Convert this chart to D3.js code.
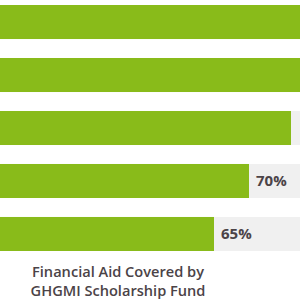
<!DOCTYPE html>
<html>
<head>
<meta charset="utf-8">
<script src="https://cdn.jsdelivr.net/npm/d3@7"></script>
<style>
  body { margin: 0; background: #ffffff; }
  svg { display: block; }
</style>
</head>
<body>
<div id="chart"></div>
<script>
let w = 300;
let h = 300;

// rows top to bottom; the top two run off the right edge of the crop
let rows = ["r1", "r2", "r3", "r4", "r5"];
let values = [85, 80, 76, 70, 65];
let labels = ["85%", "80%", "76%", "70%", "65%"];
let titleLines = ["Financial Aid Covered by", "GHGMI Scholarship Fund"];

let svg = d3.select("#chart")
  .append("svg")
  .attr("width", w)
  .attr("height", h);

// 0% sits off the left side of the crop, 7px per percent
let xScale = d3.scaleLinear()
  .domain([0, 100])
  .range([-241, 459]);

let yScale = d3.scaleBand()
  .domain(rows)
  .range([5, 251])
  .paddingInner(0.358)
  .paddingOuter(0);

// grey track behind each bar
svg.selectAll(".track")
  .data(rows)
  .enter()
  .append("rect")
  .attr("class", "track")
  .attr("x", xScale(0))
  .attr("y", d => yScale(d))
  .attr("width", xScale(100) - xScale(0))
  .attr("height", yScale.bandwidth())
  .attr("fill", "#f0f0f0");

svg.selectAll(".bar")
  .data(values)
  .enter()
  .append("rect")
  .attr("class", "bar")
  .attr("x", xScale(0))
  .attr("y", (d, i) => yScale(rows[i]))
  .attr("width", d => xScale(d) - xScale(0))
  .attr("height", yScale.bandwidth())
  .attr("fill", "#89bb1a");

// only the labels that land inside the crop are visible in the picture
let shown = values.map((d, i) => i).filter(i => xScale(values[i]) + 40 < w);

svg.selectAll(".val")
  .data(shown)
  .enter()
  .append("text")
  .attr("class", "val")
  .attr("x", i => xScale(values[i]) + 7)
  .attr("y", i => yScale(rows[i]) + yScale.bandwidth() / 2)
  .attr("dy", "0.36em")
  .text(i => labels[i])
  .style("font-family", "'Open Sans', sans-serif")
  .style("font-weight", "700")
  .style("font-size", "15px")
  .style("fill", "#4b4347");

svg.selectAll(".title")
  .data(titleLines)
  .enter()
  .append("text")
  .attr("class", "title")
  .attr("x", 118)
  .attr("y", (d, i) => 277 + i * 19)
  .attr("text-anchor", "middle")
  .text(d => d)
  .style("font-family", "'Open Sans', sans-serif")
  .style("font-weight", "600")
  .style("font-size", "14.6px")
  .style("fill", "#4b4347");
</script>
</body>
</html>
